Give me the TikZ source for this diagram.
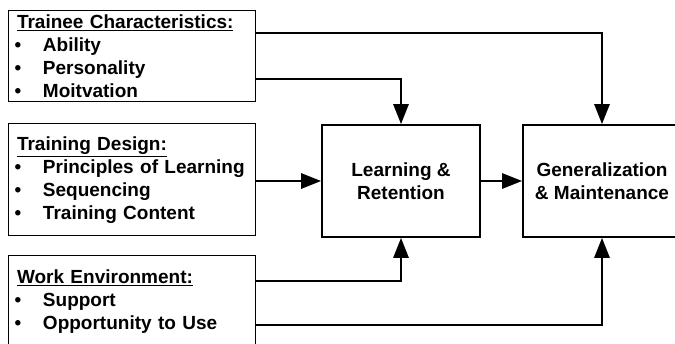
\documentclass[tikz,border=0pt]{standalone}
\usepackage{fontspec}
\setmainfont{Liberation Sans}
\usetikzlibrary{arrows.meta}
\newcommand{\itemdot}{\makebox[30pt][l]{\hspace*{1.5pt}•}}
\newcommand{\boxhead}[1]{\hspace*{4pt}\underline{#1}}
\begin{document}
\begin{tikzpicture}[x=1pt, y=-1pt,
    inbox/.style={draw, line width=1pt, text width=237pt, inner xsep=5pt, inner ysep=0pt,
      align=left, font=\fontsize{19}{23}\selectfont\bfseries},
    outbox/.style={draw, line width=1.6pt, minimum width=158pt, minimum height=112pt,
      align=center, font=\fontsize{19}{23}\selectfont\bfseries},
    conn/.style={line width=2.7pt, -{Triangle[length=20pt, width=15pt]}}]
      \path[use as bounding box] (0,0) rectangle (675,344);
      \node[inbox, minimum height=91pt] at (131.5,56.5) (tc) {\boxhead{Trainee Characteristics:}\\
        \itemdot Ability\\ \itemdot Personality\\ \itemdot Moitvation};
      \node[inbox, minimum height=112pt] at (131.5,180) (td) {\boxhead{Training Design:}\\
        \itemdot Principles of Learning\\ \itemdot Sequencing\\ \itemdot Training Content};
      \node[inbox, minimum height=92pt] at (131.5,302) (we) {\boxhead{Work Environment:}\\
        \itemdot Support\\ \itemdot Opportunity to Use};
      \node[outbox] at (401,181) (lr) {Learning \&\\Retention};
      \node[outbox] at (602,181) (gen) {Generalization\\\& Maintenance};
      \path[draw,conn] ([yshift=23.5pt]tc.east) -| (gen.north);
      \path[draw,conn] ([yshift=-22.5pt]tc.east) -| (lr.north);
      \path[draw,conn] (td.east |- lr.west) -- (lr.west);
      \path[draw,conn] (lr) -- (gen);
      \path[draw,conn] ([yshift=21pt]we.east) -| (lr.south);
      \path[draw,conn] ([yshift=-23pt]we.east) -| (gen.south);
\end{tikzpicture}
\end{document}
